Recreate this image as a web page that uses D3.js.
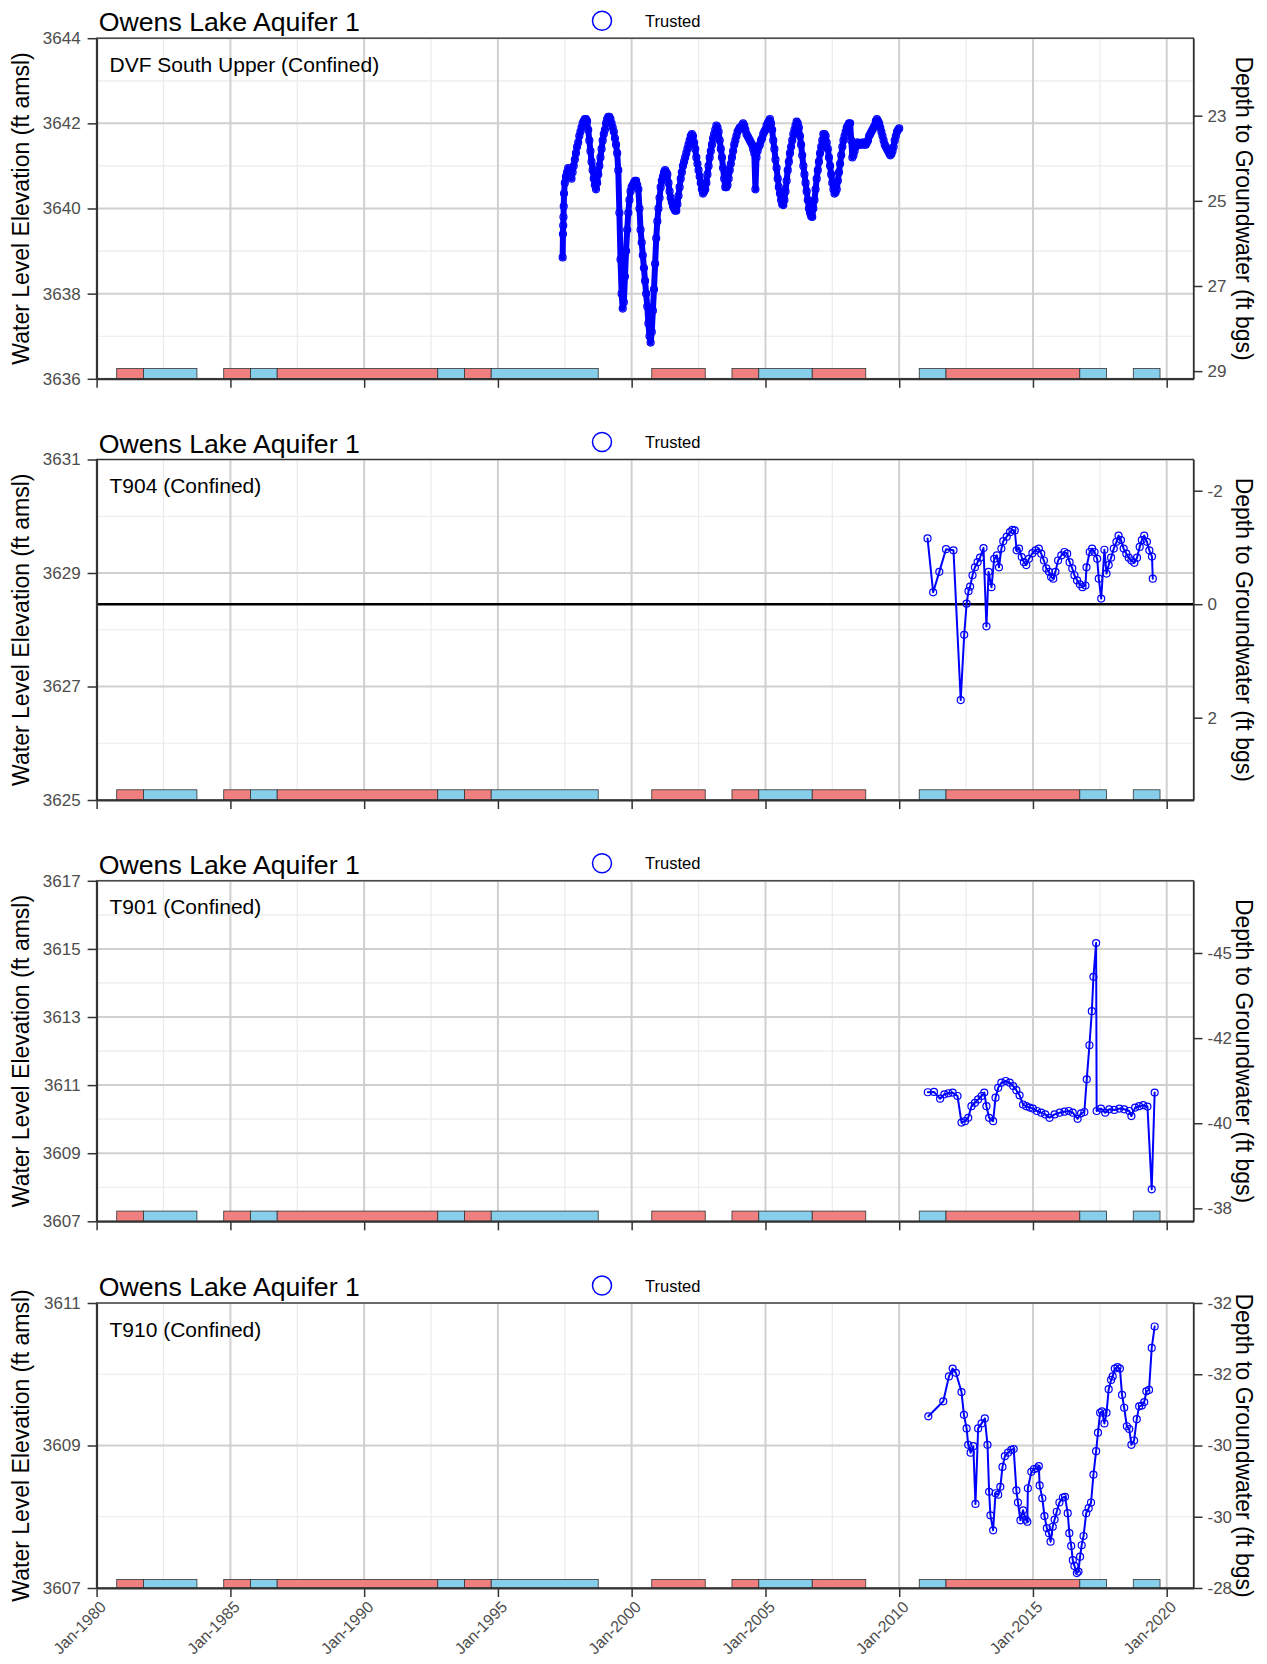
<!DOCTYPE html>
<html>
<head>
<meta charset="utf-8">
<script src="https://cdn.jsdelivr.net/npm/d3@7"></script>
<style>
  body { margin: 0; background: #fff; }
  svg text { font-family: "Liberation Sans", Arial, sans-serif; }
</style>
</head>
<body>
<svg id="chart" width="1267" height="1664"></svg>
<script>
// ---- data ----
const aquifer = 'Owens Lake Aquifer 1';
const wells = ['DVF South Upper (Confined)', 'T904 (Confined)', 'T901 (Confined)', 'T910 (Confined)'];
const groundSurface = [3665.18, 3628.45, 3569.88, 3579];

const elevDomain = [[3636, 3644], [3625, 3631], [3607, 3617], [3607, 3611]];
const elevTicks = [[3636, 3638, 3640, 3642, 3644], [3625, 3627, 3629, 3631],
                   [3607, 3609, 3611, 3613, 3615, 3617], [3607, 3609, 3611]];
const depthTicks = [[23, 25, 27, 29], [-2, 0, 2], [-45, -42.5, -40, -37.5], [-32, -31, -30, -29, -28]];
const depthLabels = [['23', '25', '27', '29'], ['-2', '0', '2'], ['-45', '-42', '-40', '-38'],
                     ['-32', '-32', '-30', '-30', '-28']];

// water year type bars
const periodStart = [1980.75, 1981.75, 1984.75, 1985.75, 1986.75, 1992.75, 1993.75, 1994.75,
                     2000.75, 2003.75, 2004.75, 2006.75, 2010.75, 2011.75, 2016.75, 2018.75];
const periodEnd   = [1981.75, 1983.75, 1985.75, 1986.75, 1992.75, 1993.75, 1994.75, 1998.75,
                     2002.75, 2004.75, 2006.75, 2008.75, 2011.75, 2016.75, 2017.75, 2019.75];
const periodType  = ['dry', 'wet', 'dry', 'wet', 'dry', 'wet', 'dry', 'wet',
                     'dry', 'dry', 'wet', 'dry', 'wet', 'dry', 'wet', 'wet'];

// DVF South Upper: first readings, then a half-monthly record from mid-1997
const dvfFirstYears = [1997.42, 1997.43, 1997.44, 1997.45, 1997.46, 1997.47];
const dvfFirstElev = [3638.85, 3639.4, 3639.6, 3639.8, 3640.05, 3640.35];
const dvfStart = 1997.5, dvfStep = 1 / 24;
const dvfElev = [
  3640.6, 3640.75, 3640.85, 3640.95, 3640.9, 3640.75, 3640.7, 3640.85, 3641.0, 3641.15, 3641.3, 3641.45,
  3641.55, 3641.7, 3641.8, 3641.9, 3642.0, 3642.05, 3642.1, 3642.1, 3642.05, 3641.85, 3641.6, 3641.35,
  3641.1, 3640.9, 3640.7, 3640.55, 3640.45, 3640.6, 3640.8, 3641.0, 3641.2, 3641.4, 3641.6, 3641.75,
  3641.85, 3642.0, 3642.1, 3642.15, 3642.15, 3642.1, 3642.0, 3641.9, 3641.8, 3641.65, 3641.5, 3641.3,
  3640.9, 3639.9, 3638.8, 3638.0, 3637.65, 3637.8, 3638.4, 3639.0, 3639.5, 3639.9, 3640.2, 3640.4,
  3640.5, 3640.55, 3640.6, 3640.65, 3640.65, 3640.55, 3640.45, 3640.0, 3639.5, 3639.2, 3638.9, 3638.6,
  3638.3, 3638.0, 3637.7, 3637.3, 3637.0, 3636.85, 3637.1, 3637.6, 3638.1, 3638.7, 3639.3, 3639.7,
  3640.0, 3640.25, 3640.5, 3640.65, 3640.75, 3640.85, 3640.9, 3640.85, 3640.8, 3640.6, 3640.4, 3640.25,
  3640.15, 3640.05, 3640.0, 3639.95, 3639.95, 3640.1, 3640.3, 3640.5, 3640.7, 3640.85, 3641.0, 3641.1,
  3641.2, 3641.3, 3641.4, 3641.5, 3641.6, 3641.7, 3641.75, 3641.7, 3641.55, 3641.4, 3641.2, 3641.05,
  3640.9, 3640.75, 3640.6, 3640.45, 3640.35, 3640.4, 3640.45, 3640.6, 3640.8, 3641.0, 3641.2, 3641.35,
  3641.5, 3641.65, 3641.75, 3641.85, 3641.95, 3641.9, 3641.8, 3641.6, 3641.4, 3641.2, 3640.95, 3640.7,
  3640.5, 3640.5, 3640.55, 3640.7, 3640.9, 3641.05, 3641.2, 3641.35, 3641.5, 3641.6, 3641.7, 3641.8,
  3641.85, 3641.9, 3641.9, 3641.95, 3642.0, 3641.95, 3641.85, 3641.75, 3641.7, 3641.65, 3641.6, 3641.55,
  3641.5, 3641.4, 3641.3, 3640.45, 3641.2, 3641.35, 3641.45, 3641.5, 3641.6, 3641.65, 3641.75, 3641.8,
  3641.85, 3641.95, 3642.0, 3642.05, 3642.1, 3642.0, 3641.85, 3641.6, 3641.4, 3641.15, 3640.95, 3640.7,
  3640.5, 3640.35, 3640.2, 3640.1, 3640.08, 3640.2, 3640.4, 3640.65, 3640.9, 3641.1, 3641.3, 3641.45,
  3641.6, 3641.75, 3641.85, 3641.95, 3642.04, 3642.0, 3641.9, 3641.7, 3641.5, 3641.25, 3641.0, 3640.8,
  3640.6, 3640.4, 3640.2, 3640.0, 3639.9, 3639.82, 3639.8, 3640.0, 3640.2, 3640.45, 3640.7, 3640.9,
  3641.1, 3641.3, 3641.45, 3641.6, 3641.75, 3641.75, 3641.7, 3641.55, 3641.4, 3641.2, 3641.0, 3640.8,
  3640.6, 3640.45, 3640.35, 3640.38, 3640.45, 3640.65, 3640.85, 3641.05, 3641.25, 3641.45, 3641.6, 3641.7,
  3641.8, 3641.9, 3641.95, 3642.0, 3642.0, 3641.6, 3641.2, 3641.25, 3641.35, 3641.45, 3641.55, 3641.55,
  3641.5, 3641.5, 3641.5, 3641.55, 3641.55, 3641.5, 3641.5, 3641.55, 3641.6, 3641.7, 3641.75, 3641.8,
  3641.85, 3641.9, 3641.95, 3642.05, 3642.1, 3642.05, 3642.0, 3641.9, 3641.8, 3641.7, 3641.6, 3641.5,
  3641.45, 3641.4, 3641.35, 3641.3, 3641.25, 3641.28, 3641.35, 3641.45, 3641.6, 3641.7, 3641.8, 3641.85,
  3641.88];

const t904Years = [2011.06, 2011.27, 2011.5, 2011.75, 2012.03, 2012.3, 2012.43, 2012.52, 2012.59, 2012.65, 2012.74, 2012.83,
  2012.93, 2013.02, 2013.15, 2013.26, 2013.34, 2013.45, 2013.55, 2013.65, 2013.73, 2013.82, 2013.89, 2014.02, 2014.14,
  2014.23, 2014.32, 2014.39, 2014.48, 2014.58, 2014.66, 2014.75, 2014.85, 2014.98, 2015.1, 2015.22, 2015.31, 2015.41,
  2015.5, 2015.6, 2015.68, 2015.76, 2015.84, 2015.94, 2016.06, 2016.18, 2016.28, 2016.37, 2016.47, 2016.55, 2016.65,
  2016.75, 2016.85, 2016.96, 2017.0, 2017.12, 2017.21, 2017.3, 2017.4, 2017.46, 2017.55, 2017.67, 2017.75, 2017.83,
  2017.92, 2018.02, 2018.12, 2018.2, 2018.29, 2018.39, 2018.49, 2018.58, 2018.68, 2018.79, 2018.89, 2018.99, 2019.07,
  2019.16, 2019.26, 2019.35, 2019.45, 2019.48];
const t904Elev = [3629.61, 3628.66, 3629.02, 3629.42, 3629.4, 3626.76, 3627.91, 3628.46, 3628.68, 3628.76, 3628.96, 3629.1,
  3629.19, 3629.27, 3629.44, 3628.06, 3629.02, 3628.75, 3629.25, 3629.31, 3629.1, 3629.43, 3629.56, 3629.64, 3629.72,
  3629.76, 3629.75, 3629.4, 3629.43, 3629.28, 3629.19, 3629.14, 3629.25, 3629.35, 3629.4, 3629.43, 3629.34, 3629.22,
  3629.08, 3629.02, 3628.93, 3628.9, 3629.02, 3629.22, 3629.31, 3629.37, 3629.34, 3629.19, 3629.08, 3628.96, 3628.87,
  3628.8, 3628.75, 3628.78, 3629.1, 3629.37, 3629.43, 3629.37, 3629.25, 3628.9, 3628.55, 3629.41, 3628.99, 3629.14,
  3629.27, 3629.43, 3629.55, 3629.66, 3629.58, 3629.43, 3629.34, 3629.27, 3629.22, 3629.18, 3629.27, 3629.46, 3629.58,
  3629.66, 3629.55, 3629.4, 3629.29, 3628.9];

const t901Years = [2011.07, 2011.3, 2011.53, 2011.69, 2011.84, 2012.0, 2012.18, 2012.33, 2012.46, 2012.58, 2012.7, 2012.83,
  2012.95, 2013.08, 2013.18, 2013.26, 2013.36, 2013.51, 2013.6, 2013.7, 2013.82, 2013.98, 2014.13, 2014.26, 2014.38,
  2014.5, 2014.63, 2014.75, 2014.88, 2015.0, 2015.15, 2015.31, 2015.46, 2015.62, 2015.81, 2016.0, 2016.18, 2016.34,
  2016.49, 2016.67, 2016.8, 2016.92, 2017.01, 2017.11, 2017.2, 2017.26, 2017.36, 2017.38, 2017.54, 2017.7, 2017.85,
  2018.04, 2018.23, 2018.41, 2018.6, 2018.68, 2018.82, 2018.97, 2019.12, 2019.28, 2019.44, 2019.55];
const t901Elev = [3610.79, 3610.8, 3610.6, 3610.73, 3610.76, 3610.78, 3610.68, 3609.9, 3609.94, 3610.04, 3610.38, 3610.48,
  3610.58, 3610.68, 3610.78, 3610.38, 3610.04, 3609.94, 3610.63, 3610.92, 3611.07, 3611.12, 3611.07, 3610.97, 3610.85,
  3610.7, 3610.43, 3610.38, 3610.34, 3610.31, 3610.24, 3610.19, 3610.14, 3610.04, 3610.14, 3610.19, 3610.22, 3610.24,
  3610.19, 3610.01, 3610.17, 3610.21, 3611.17, 3612.17, 3613.17, 3614.18, 3615.17, 3610.24, 3610.31, 3610.19, 3610.29,
  3610.27, 3610.31, 3610.29, 3610.24, 3610.09, 3610.34, 3610.38, 3610.41, 3610.37, 3607.94, 3610.78];

const t910Years = [2011.09, 2011.65, 2011.86, 2012.0, 2012.12, 2012.33, 2012.42, 2012.52, 2012.58, 2012.67, 2012.77, 2012.85,
  2012.95, 2013.08, 2013.2, 2013.3, 2013.36, 2013.41, 2013.51, 2013.6, 2013.7, 2013.78, 2013.86, 2013.95, 2014.07,
  2014.19, 2014.28, 2014.38, 2014.44, 2014.53, 2014.63, 2014.73, 2014.79, 2014.81, 2014.94, 2015.04, 2015.15, 2015.22,
  2015.25, 2015.35, 2015.43, 2015.52, 2015.6, 2015.66, 2015.74, 2015.81, 2015.89, 2015.99, 2016.12, 2016.2, 2016.3,
  2016.36, 2016.43, 2016.49, 2016.55, 2016.64, 2016.7, 2016.76, 2016.82, 2016.89, 2016.99, 2017.08, 2017.17, 2017.26,
  2017.36, 2017.43, 2017.51, 2017.58, 2017.67, 2017.75, 2017.83, 2017.92, 2017.98, 2018.06, 2018.16, 2018.25, 2018.33,
  2018.41, 2018.51, 2018.6, 2018.68, 2018.78, 2018.88, 2018.97, 2019.07, 2019.16, 2019.24, 2019.34, 2019.44, 2019.55];
const t910Elev = [3609.41, 3609.62, 3609.97, 3610.08, 3610.02, 3609.75, 3609.43, 3609.24, 3609.01, 3608.9, 3608.99, 3608.18,
  3609.24, 3609.31, 3609.38, 3609.01, 3608.35, 3608.02, 3607.81, 3608.33, 3608.31, 3608.42, 3608.7, 3608.85, 3608.9,
  3608.94, 3608.95, 3608.37, 3608.2, 3607.95, 3608.09, 3607.96, 3607.93, 3608.4, 3608.63, 3608.67, 3608.68, 3608.71,
  3608.44, 3608.26, 3608.01, 3607.84, 3607.77, 3607.65, 3607.86, 3607.96, 3608.07, 3608.2, 3608.27, 3608.28, 3608.05,
  3607.77, 3607.59, 3607.39, 3607.31, 3607.21, 3607.23, 3607.44, 3607.6, 3607.73, 3608.05, 3608.12, 3608.2, 3608.59,
  3608.92, 3609.18, 3609.46, 3609.48, 3609.31, 3609.46, 3609.79, 3609.92, 3609.97, 3610.08, 3610.1, 3610.08, 3609.71,
  3609.53, 3609.27, 3609.23, 3609.01, 3609.07, 3609.37, 3609.55, 3609.56, 3609.61, 3609.76, 3609.78, 3610.37, 3610.67];

const dvfYears = dvfFirstYears.concat(dvfElev.map((v, i) => dvfStart + i * dvfStep));
const seriesYears = [dvfYears, t904Years, t901Years, t910Years];
const seriesElev = [dvfFirstElev.concat(dvfElev), t904Elev, t901Elev, t910Elev];

// ---- layout ----
const xLeft = 96.6, xRight = 1193.5;
const panelTop = [38.2, 459.5, 880.8, 1303];
const panelBottom = [378.8, 800, 1221.3, 1588];
const lineWidth = [6, 2, 2, 2];   // the DVF record is dense, its markers merge into a band
const typeColor = {dry: '#F08080', wet: '#87CEEB'};

const toDate = v => {
  const yr = Math.floor(v);
  const s = new Date(yr, 0, 1), e = new Date(yr + 1, 0, 1);
  return new Date(+s + (v - yr) * (e - s));
};

const svg = d3.select('#chart');
svg.append('rect').attr('width', 1267).attr('height', 1664).attr('fill', '#fff');

const x = d3.scaleTime()
  .domain([new Date(1980, 0, 1), new Date(2021, 0, 1)])
  .range([xLeft, xRight]);
const xMajor = d3.range(1980, 2021, 5).map(y => new Date(y, 0, 1));
const xMinor = d3.range(1982.5, 2021, 5).map(toDate);

const periods = periodStart.map((s, i) => ({s: s, e: periodEnd[i], type: periodType[i]}));

function drawPanel(i) {
  const top = panelTop[i], bottom = panelBottom[i];
  const dom = elevDomain[i];
  const y = d3.scaleLinear().domain(dom).range([bottom, top]);
  const gs = groundSurface[i];
  const yDepth = d3.scaleLinear().domain([gs - dom[0], gs - dom[1]]).range([bottom, top]);
  const g = svg.append('g');

  // grid
  const yMinor = d3.pairs(elevTicks[i]).map(p => (p[0] + p[1]) / 2);
  g.selectAll('.hmin').data(yMinor).enter().append('line')
    .attr('x1', xLeft).attr('x2', xRight).attr('y1', d => y(d)).attr('y2', d => y(d))
    .attr('stroke', '#EBEBEB').attr('stroke-width', 1.2);
  g.selectAll('.vmin').data(xMinor).enter().append('line')
    .attr('x1', d => x(d)).attr('x2', d => x(d)).attr('y1', top).attr('y2', bottom)
    .attr('stroke', '#EBEBEB').attr('stroke-width', 1.2);
  g.selectAll('.hmaj').data(elevTicks[i]).enter().append('line')
    .attr('x1', xLeft).attr('x2', xRight).attr('y1', d => y(d)).attr('y2', d => y(d))
    .attr('stroke', '#D0D0D0').attr('stroke-width', 2);
  g.selectAll('.vmaj').data(xMajor).enter().append('line')
    .attr('x1', d => x(d)).attr('x2', d => x(d)).attr('y1', top).attr('y2', bottom)
    .attr('stroke', '#D0D0D0').attr('stroke-width', 2);

  // water year type bars
  const barTop = dom[0] + 0.03 * (dom[1] - dom[0]);
  g.selectAll('.bar').data(periods).enter().append('rect')
    .attr('x', d => x(toDate(d.s)))
    .attr('width', d => x(toDate(d.e)) - x(toDate(d.s)))
    .attr('y', y(barTop))
    .attr('height', y(dom[0]) - y(barTop))
    .attr('fill', d => typeColor[d.type])
    .attr('stroke', '#333').attr('stroke-width', 0.8);

  // ground surface line
  if (gs > dom[0] && gs < dom[1]) {
    g.append('line').attr('x1', xLeft).attr('x2', xRight)
      .attr('y1', y(gs)).attr('y2', y(gs))
      .attr('stroke', '#000').attr('stroke-width', 2.5);
  }

  // series
  const pts = seriesYears[i].map((t, j) => ({t: toDate(t), v: seriesElev[i][j]}));
  const line = d3.line().x(d => x(d.t)).y(d => y(d.v));
  g.append('path').datum(pts).attr('d', line)
    .attr('fill', 'none').attr('stroke', '#0000FF').attr('stroke-width', lineWidth[i])
    .attr('stroke-linejoin', 'round').attr('stroke-linecap', 'round');
  g.selectAll('.pt').data(pts).enter().append('circle')
    .attr('cx', d => x(d.t)).attr('cy', d => y(d.v)).attr('r', 3.5)
    .attr('fill', 'none').attr('stroke', '#0000FF').attr('stroke-width', 1.2);

  // border
  g.append('rect').attr('x', xLeft).attr('y', top)
    .attr('width', xRight - xLeft).attr('height', bottom - top)
    .attr('fill', 'none').attr('stroke', '#333').attr('stroke-width', 1.3);

  // axes
  const styleAxis = a => {
    a.select('.domain').attr('stroke', '#333').attr('stroke-width', 2);
    a.selectAll('.tick line').attr('stroke', '#333').attr('stroke-width', 1.5);
    a.selectAll('.tick text').attr('fill', '#4D4D4D').attr('font-size', 17)
      .style('font-family', '"Liberation Sans", Arial, sans-serif');
  };
  const left = g.append('g').attr('transform', `translate(${xLeft},0)`)
    .call(d3.axisLeft(y).tickValues(elevTicks[i]).tickSize(9).tickSizeOuter(0).tickPadding(7).tickFormat(d3.format('d')));
  styleAxis(left);
  const right = g.append('g').attr('transform', `translate(${xRight},0)`)
    .call(d3.axisRight(yDepth).tickValues(depthTicks[i]).tickSize(9).tickSizeOuter(0).tickPadding(5)
      .tickFormat((d, j) => depthLabels[i][j]));
  styleAxis(right);
  right.select('.domain').attr('stroke-width', 1.3);
  const bottomAxis = d3.axisBottom(x).tickValues(xMajor).tickSize(9).tickSizeOuter(0);
  if (i < 3) bottomAxis.tickFormat('');
  else bottomAxis.tickFormat(d3.timeFormat('%b-%Y'));
  const bot = g.append('g').attr('transform', `translate(0,${bottom})`).call(bottomAxis);
  styleAxis(bot);
  if (i === 3) {
    bot.selectAll('.tick text')
      .attr('font-size', 16)
      .attr('x', null).attr('y', null).attr('dy', null)
      .attr('text-anchor', 'end')
      .attr('transform', 'translate(10,20) rotate(-45)');
  }

  // texts
  g.append('text').attr('x', 98.7).attr('y', top - 7).attr('font-size', 26.7).attr('fill', '#000').text(aquifer);
  g.append('circle').attr('cx', 602).attr('cy', top - 17.5).attr('r', 9.5)
    .attr('fill', 'none').attr('stroke', '#0000FF').attr('stroke-width', 1.5);
  g.append('text').attr('x', 645).attr('y', top - 11.5).attr('font-size', 16.5).attr('fill', '#000').text('Trusted');
  g.append('text').attr('x', 109.5).attr('y', top + 33.5).attr('font-size', 21).attr('fill', '#000').text(wells[i]);
  g.append('text').attr('transform', `translate(29,${(top + bottom) / 2}) rotate(-90)`)
    .attr('text-anchor', 'middle').attr('font-size', 23).attr('fill', '#000')
    .text('Water Level Elevation (ft amsl)');
  g.append('text').attr('transform', `translate(1236,${(top + bottom) / 2}) rotate(90)`)
    .attr('text-anchor', 'middle').attr('font-size', 23).attr('fill', '#000')
    .text('Depth to Groundwater (ft bgs)');
}

[0, 1, 2, 3].forEach(drawPanel);
</script>
</body>
</html>
